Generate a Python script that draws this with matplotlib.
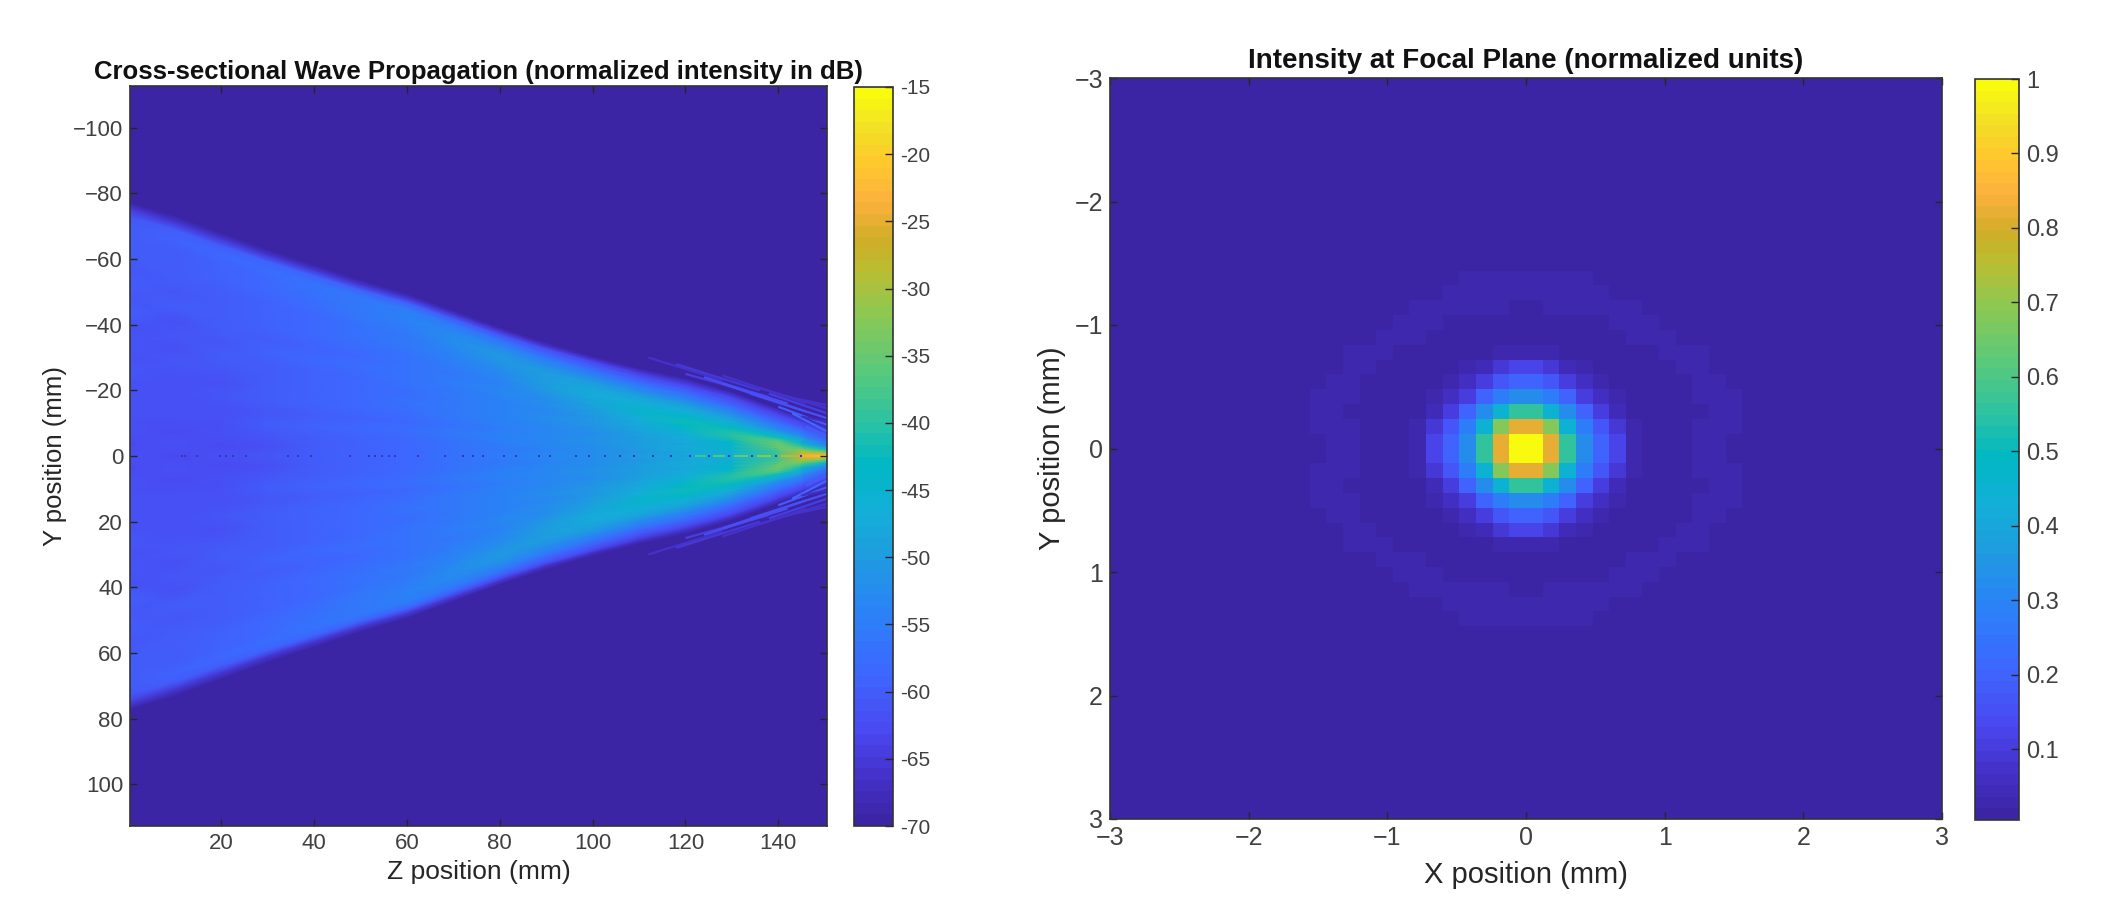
#!/usr/bin/env python3
"""Focused beam: cross-section in dB and focal plane intensity."""

import numpy as np
import matplotlib
matplotlib.use("Agg")
import matplotlib.pyplot as plt
from matplotlib.collections import LineCollection
from matplotlib.colors import LinearSegmentedColormap, Normalize

plt.rcParams["font.family"] = ["Liberation Sans", "DejaVu Sans"]

W, H = 2120, 900
TXT = "#262626"
TICKTXT = "#404040"

# colormap stops
cmap_pos = [0.0, 0.06, 0.12, 0.20, 0.28, 0.36, 0.42, 0.49, 0.55, 0.62, 0.70, 0.76, 0.80, 0.85, 0.90, 0.95, 1.0]
cmap_hex = ["#3b25a5", "#4431c8", "#4a47f0", "#3f66ff", "#2b80f8", "#1f9be0", "#14aed8", "#00b8c4", "#2ec3a0",
            "#5ac97a", "#90c850", "#bcbc30", "#d0ad28", "#fdb13e", "#fec72e", "#f2e025", "#f9fb0e"]

# left panel: half width of the cone at each z, and dB at fractions of that half width
z_mm = [0.3, 10, 20, 30, 40, 50, 60, 70, 80, 90, 100, 110, 120, 130, 140, 145, 150.5]
edge_mm = [75, 71, 66, 61, 56.5, 52, 48, 43, 38, 33.5, 29.5, 26, 23, 19, 14, 11.5, 9]
edge_frac = [0, .05, .10, .16, .22, .28, .34, .40, .46, .52, .58, .64, .70, .76, .82, .88, .93, .97, 1.0, 1.03]
cone_db = [
    [-62, -62.5, -61.5, -62, -61.5, -62, -61, -61.5, -61, -61.5, -60.5, -61, -60.5, -61, -60.5, -60, -60, -61, -64, -70],
    [-62.5, -62, -62.5, -61.5, -62, -61.5, -62, -61, -61.5, -61, -61.5, -60.5, -61, -60.5, -60, -60, -59.5, -60, -65, -70],
    [-62, -62.5, -61.5, -62, -61.5, -61, -61.5, -61, -60.5, -61, -60.5, -60, -60.5, -60, -59.5, -59, -58.5, -60, -65, -70],
    [-61, -61.5, -61, -60.5, -61, -60.5, -60, -60.5, -60, -59.5, -60, -59.5, -59, -59.5, -58.5, -58, -57.5, -59, -65, -70],
    [-60, -60.5, -60, -59.5, -60, -59.5, -59, -59.5, -59, -58.5, -59, -58.5, -58, -58, -57.5, -57, -56.5, -59, -65, -70],
    [-59, -59.5, -59, -58.5, -59, -58.5, -58, -58.5, -58, -57.5, -58, -57.5, -57, -56.5, -56, -55.5, -56, -59, -65, -70],
    [-58, -58.5, -58, -57.5, -58, -57.5, -57, -57.5, -57, -56.5, -57, -56.5, -56, -55.5, -55, -54, -55, -59, -65, -70],
    [-56.5, -57, -56.5, -56, -56.5, -56, -55.5, -56, -55.5, -55, -55.5, -55, -54.5, -53.5, -52.5, -53, -56, -60, -65, -70],
    [-55, -55.5, -55, -54.5, -55, -54.5, -54, -54.5, -54, -53.5, -54, -53, -52, -51, -51, -53, -57, -61, -65, -70],
    [-53.5, -54, -53.5, -53, -53.5, -53, -52.5, -53, -52.5, -52, -51, -50, -49.5, -50, -52, -55, -59, -62, -66, -70],
    [-52, -52.5, -52, -51.5, -52, -51.5, -51, -50.5, -50, -49, -48, -47.5, -48, -50, -53, -57, -60, -63, -66, -70],
    [-50, -50.5, -50, -49.5, -50, -49, -48.5, -47.5, -46, -45, -45.5, -47, -49, -52, -55, -59, -62, -64, -67, -70],
    [-48, -48.5, -47.5, -48, -47, -46, -44.5, -43, -42.5, -44, -46, -48, -51, -54, -57, -60, -63, -65, -67, -70],
    [-45.5, -46, -45, -45, -43.5, -41, -40, -41, -43, -46, -48.5, -51, -53, -56, -59, -61, -63, -65, -67, -70],
    [-38, -39, -38, -36, -34.5, -34, -37, -42, -46, -50, -53, -55, -57, -59, -61, -63, -64, -66, -67, -70],
    [-25, -26, -29, -33, -37, -41, -44, -47, -49, -52, -54, -56, -58, -60, -62, -63, -65, -66, -67, -70],
    [-20, -24, -32, -38, -44, -50, -53, -56, -58, -59, -60, -61, -62, -63, -64, -65, -66, -67, -68, -70],
]

# dark specks and bright dashes along the axis
speck_z = [11.5, 12.2, 14.8, 19.7, 21, 22.5, 25.3, 34.4, 36.4, 39.3, 47.7, 51.7, 53.2, 54.6, 56.1, 57.4, 62.4, 68.2,
           72.1, 74.3, 76.3, 80.9, 83.4, 88.4, 90.9, 96.4, 99.3, 102.7, 106, 109, 113, 116.8, 121, 125, 129.4, 134.4,
           139.5, 145]
dash_start = [122, 126, 130.5, 135.5, 140.5]
dash_end = [124.5, 128.5, 133.5, 138.5, 144]
dash_db = [-39, -37, -35, -33, -31]

# ripples outside the cone near focus, upper side (mirrored below)
fringe_z0 = [112, 118, 120, 124, 128, 128, 133, 134, 138, 140, 142, 143, 145, 146]
fringe_y0 = [30, 28, 25, 24, 24.5, 22, 22, 19, 19, 15, 18, 13, 12, 9]
fringe_z1 = [128, 136, 138, 142, 146, 146, 150.5, 150.5, 150.5, 150.5, 150.5, 150.5, 150.5, 150.5]
fringe_y1 = [23, 20, 18, 16, 16, 13.5, 14.5, 11.5, 13, 9.5, 15.5, 7.5, 10.5, 6]
fringe_db = [-66, -65, -64, -63, -66, -62, -66, -62, -64, -60, -66, -58, -67, -60]

# right panel: one quadrant of the 50x50 focal image, in 1/1000, from the centre outwards
focal_quadrant = [
    [1000, 820, 550, 330, 200, 120, 35, 8, 12, 18, 24, 24, 18, 12, 9, 9, 10, 10, 9, 7],
    [820, 680, 450, 280, 170, 85, 25, 7, 10, 16, 22, 24, 24, 18, 12, 9, 9, 10, 10, 9],
    [550, 450, 320, 200, 110, 50, 12, 7, 10, 15, 20, 24, 23, 17, 11, 9, 9, 10, 10, 8],
    [330, 280, 200, 110, 60, 25, 7, 8, 12, 15, 21, 23, 21, 15, 10, 9, 9, 10, 9, 8],
    [200, 170, 110, 60, 30, 10, 6, 8, 12, 18, 22, 22, 18, 13, 9, 9, 10, 10, 9, 7],
    [120, 85, 50, 25, 10, 6, 8, 10, 16, 21, 22, 20, 15, 11, 9, 9, 10, 10, 9, 7],
    [35, 25, 12, 7, 6, 8, 12, 16, 21, 22, 21, 17, 12, 9, 9, 9, 10, 9, 8, 6],
    [8, 8, 9, 10, 12, 18, 22, 24, 22, 14, 10, 8, 9, 9, 10, 10, 8, 7, 6, 6],
    [12, 13, 15, 18, 20, 23, 24, 22, 16, 12, 9, 9, 9, 10, 10, 9, 8, 7, 6, 6],
    [20, 21, 22, 24, 24, 23, 21, 16, 11, 9, 9, 9, 10, 10, 9, 8, 7, 6, 6, 6],
    [26, 26, 25, 24, 22, 18, 15, 11, 9, 9, 9, 9, 10, 10, 9, 8, 7, 6, 6, 6],
    [24, 24, 23, 22, 20, 17, 14, 11, 9, 9, 9, 9, 10, 10, 9, 8, 7, 6, 6, 6],
    [16, 16, 15, 14, 13, 12, 10, 9, 9, 9, 10, 10, 10, 9, 8, 7, 6, 6, 6, 6],
    [11, 11, 10, 10, 9, 9, 8, 8, 9, 10, 10, 10, 9, 8, 7, 6, 6, 6, 6, 6],
    [8, 8, 8, 8, 8, 9, 9, 10, 10, 10, 9, 9, 8, 7, 6, 6, 6, 6, 6, 6],
    [9, 9, 9, 9, 9, 9, 10, 10, 10, 9, 9, 8, 7, 6, 6, 6, 6, 6, 6, 6],
    [10, 10, 10, 10, 10, 10, 10, 9, 8, 8, 7, 6, 6, 6, 6, 6, 6, 6, 6, 6],
    [10, 10, 10, 9, 9, 9, 8, 8, 7, 7, 6, 6, 6, 6, 6, 6, 6, 6, 6, 6],
    [8, 8, 8, 8, 8, 7, 7, 7, 6, 6, 6, 6, 6, 6, 6, 6, 6, 6, 6, 6],
    [7, 7, 7, 7, 6, 6, 6, 6, 6, 6, 6, 6, 6, 6, 6, 6, 6, 6, 6, 6],
]
focal_background = 6

left_xticks = [20, 40, 60, 80, 100, 120, 140]
left_yticks = [-100, -80, -60, -40, -20, 0, 20, 40, 60, 80, 100]
left_cticks = [-15, -20, -25, -30, -35, -40, -45, -50, -55, -60, -65, -70]
right_ticks = [-3, -2, -1, 0, 1, 2, 3]
right_cticks = [0.1, 0.2, 0.3, 0.4, 0.5, 0.6, 0.7, 0.8, 0.9, 1]


def px_axes(fig, x0, y0, x1, y1):
    return fig.add_axes([x0 / W, 1 - y1 / H, (x1 - x0) / W, (y1 - y0) / H])


def style_axes(ax, size):
    ax.tick_params(direction="in", length=5, width=1.0, top=True, right=True, color="#262626",
                   labelsize=size, labelcolor=TICKTXT, pad=5)
    for s in ax.spines.values():
        s.set_color("#333333")
        s.set_linewidth(1.2)


def style_colorbar(cb, ticks, size):
    cb.set_ticks(ticks)
    cb.set_ticklabels([f"{t:g}" for t in ticks])
    cb.ax.tick_params(direction="in", length=5.5, width=1.0, color="#262626",
                      labelsize=size, labelcolor=TICKTXT, pad=5)
    cb.outline.set_edgecolor("#333333")
    cb.outline.set_linewidth(1.2)


def main():
    cmap = LinearSegmentedColormap.from_list("bar", list(zip(cmap_pos, cmap_hex)), N=64)
    db_norm = Normalize(-70, -15)

    fig = plt.figure(figsize=(W / 100, H / 100), dpi=100, facecolor="white")

    # Left: cone in dB, mirrored about y=0
    ax1 = px_axes(fig, 130, 86, 827, 826)
    ax1.set_facecolor(cmap(0.0))
    frac = np.array(edge_frac)
    frac_full = np.concatenate([-frac[::-1], frac[1:]])
    db = np.array(cone_db)
    db_full = np.hstack([db[:, ::-1], db[:, 1:]])
    zz = np.repeat(np.array(z_mm)[:, None], frac_full.size, axis=1)
    yy = np.outer(edge_mm, frac_full)
    mesh = ax1.pcolormesh(zz, yy, db_full, shading="gouraud", cmap=cmap, norm=db_norm)

    for sign in (-1, 1):
        segs = [[(a, sign * b), (c, sign * d)] for a, b, c, d in zip(fringe_z0, fringe_y0, fringe_z1, fringe_y1)]
        ax1.add_collection(LineCollection(segs, colors=cmap(db_norm(np.array(fringe_db))), linewidths=1.6))

    ax1.hlines(np.zeros(len(dash_start)), dash_start, dash_end, colors=cmap(db_norm(np.array(dash_db))), linewidth=1.5)
    ax1.scatter(speck_z, np.zeros(len(speck_z)), s=3, marker="s", c="#3a35c0", linewidths=0)

    ax1.set_xlim(0.3, 150.5)
    ax1.set_ylim(112.7, -112.7)
    ax1.set_xticks(left_xticks)
    ax1.set_yticks(left_yticks)
    style_axes(ax1, 16)
    ax1.set_xlabel("Z position (mm)", fontsize=19, color=TXT, labelpad=4)
    ax1.set_ylabel("Y position (mm)", fontsize=18.5, color=TXT, labelpad=4)
    ax1.set_title("Cross-sectional Wave Propagation (normalized intensity in dB)", fontsize=18.5,
                  fontweight="bold", color="#111111", pad=5)

    cax1 = px_axes(fig, 854, 87, 893, 826)
    cb1 = fig.colorbar(mesh, cax=cax1)
    style_colorbar(cb1, left_cticks, 15)

    # Right: focal plane, quadrant mirrored to 50x50
    ax2 = px_axes(fig, 1110, 78, 1942, 819)
    focal = np.full((25, 25), focal_background, dtype=float)
    q = np.array(focal_quadrant, dtype=float)
    focal[:q.shape[0], :q.shape[1]] = q
    focal = np.vstack([np.hstack([focal[::-1, ::-1], focal[::-1, :]]), np.hstack([focal[:, ::-1], focal])]) / 1000
    im = ax2.imshow(focal, extent=[-3, 3, 3, -3], aspect="auto", interpolation="nearest", cmap=cmap,
                    norm=Normalize(0.005, 1))
    ax2.set_xticks(right_ticks)
    ax2.set_yticks(right_ticks)
    style_axes(ax2, 18)
    ax2.set_xlabel("X position (mm)", fontsize=21, color=TXT, labelpad=8)
    ax2.set_ylabel("Y position (mm)", fontsize=21, color=TXT, labelpad=6)
    ax2.set_title("Intensity at Focal Plane (normalized units)", fontsize=20, fontweight="bold",
                  color="#111111", pad=7)

    cax2 = px_axes(fig, 1975, 79, 2019, 820)
    cb2 = fig.colorbar(im, cax=cax2)
    style_colorbar(cb2, right_cticks, 17)

    fig.savefig("out.png", dpi=100)


if __name__ == "__main__":
    main()
